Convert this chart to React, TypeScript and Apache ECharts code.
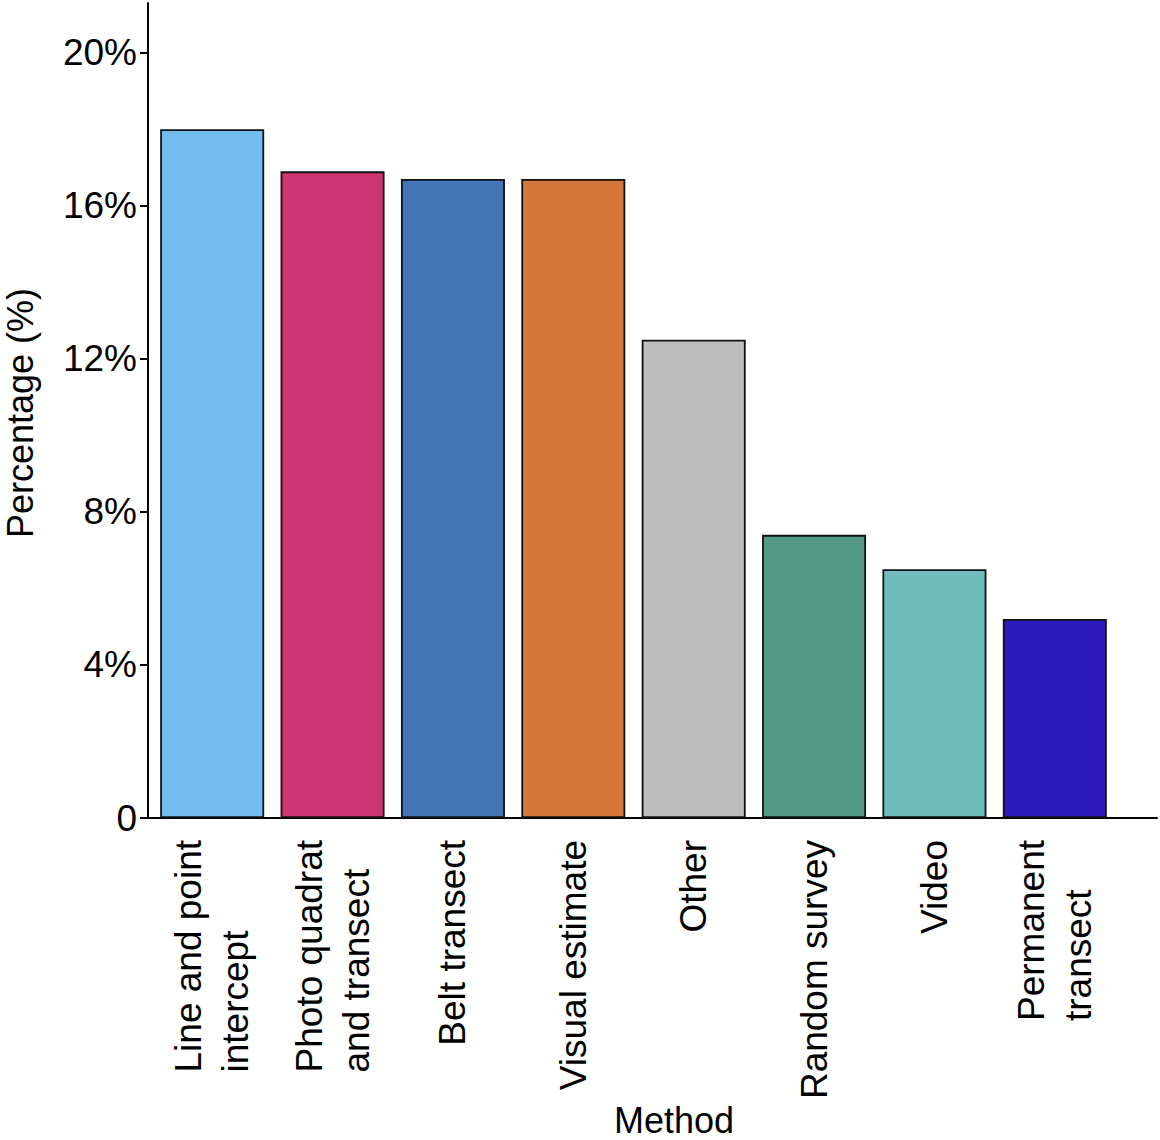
import React, { useEffect, useRef } from "react";
import * as echarts from "echarts";

const categories = [
  "Line and point\nintercept",
  "Photo quadrat\nand transect",
  "Belt transect",
  "Visual estimate",
  "Other",
  "Random survey",
  "Video",
  "Permanent\ntransect",
];
const values = [18.0, 16.9, 16.7, 16.7, 12.5, 7.4, 6.5, 5.2];
const barColors = [
  "#71BDEF",
  "#CF3573",
  "#4374B7",
  "#D6763A",
  "#BEBEBE",
  "#539A86",
  "#6FBBBE",
  "#2C19BB",
];
const yTicks = [0, 4, 8, 12, 16, 20];
const yMax = 21.3;
const yTitle = "Percentage (%)";
const xTitle = "Method";

const FONT = "'Liberation Sans', Arial, Helvetica, sans-serif";
const FS = 37;

export default function App() {
  const ref = useRef<HTMLDivElement>(null);
  useEffect(() => {
    if (!ref.current) return;
    const chart = echarts.init(ref.current, undefined, { renderer: "svg" });
    const option: any = {
      animation: false,
      backgroundColor: "#ffffff",
      textStyle: { fontFamily: FONT },
      grid: [
        { left: 152, width: 963, top: 3, bottom: 322, outerBoundsMode: "none", containLabel: false },
        { left: 148, right: 3, top: 3, bottom: 322, outerBoundsMode: "none", containLabel: false },
      ],
      xAxis: [
        {
          type: "category",
          gridIndex: 0,
          data: categories,
          axisLine: { show: false },
          axisTick: { show: false },
          axisLabel: {
            rotate: 90,
            margin: 22,
            interval: 0,
            color: "#000",
            fontFamily: FONT,
            fontSize: FS,
            formatter: (v: string) =>
              v
                .split("\n")
                .map((l) => `{a|${l}}`)
                .join("\n"),
            rich: {
              a: { fontSize: FS, lineHeight: 47, color: "#000", fontFamily: FONT, align: "left" },
            },
          },
          splitLine: { show: false },
        },
        {
          type: "value",
          gridIndex: 1,
          position: "bottom",
          axisLine: { show: true, onZero: false, lineStyle: { color: "#000", width: 2 } },
          axisTick: { show: false },
          axisLabel: { show: false },
          splitLine: { show: false },
        },
      ],
      yAxis: [
        {
          type: "value",
          gridIndex: 0,
          min: 0,
          max: yMax,
          interval: 4,
          offset: 4,
          axisLine: { show: true, lineStyle: { color: "#000", width: 2 } },
          axisTick: {
            show: true,
            length: 8,
            customValues: yTicks,
            lineStyle: { color: "#000", width: 2 },
          },
          axisLabel: {
            customValues: yTicks,
            margin: 11,
            color: "#000",
            fontFamily: FONT,
            fontSize: FS,
            formatter: (v: number) => (v === 0 ? "0" : `${v}%`),
          },
          splitLine: { show: false },
        },
        { type: "value", gridIndex: 1, show: false },
      ],
      series: [
        {
          type: "bar",
          xAxisIndex: 0,
          yAxisIndex: 0,
          barWidth: 104,
          data: values.map((v, i) => ({
            value: v,
            itemStyle: { color: barColors[i], borderColor: "#111", borderWidth: 1.8 },
          })),
        },
      ],
      graphic: [
        {
          type: "text",
          x: 20,
          y: 413,
          rotation: Math.PI / 2,
          style: {
            text: yTitle,
            fontSize: 36,
            lineHeight: 30,
            fontFamily: FONT,
            fill: "#000",
            align: "center",
            verticalAlign: "middle",
          },
        },
        {
          type: "text",
          x: 674,
          y: 1120,
          style: {
            text: xTitle,
            fontSize: 36,
            lineHeight: 30,
            fontFamily: FONT,
            fill: "#000",
            align: "center",
            verticalAlign: "middle",
          },
        },
      ],
    };
    chart.setOption(option);
    return () => chart.dispose();
  }, []);
  return (
    <div
      ref={ref}
      style={{ position: "fixed", left: 0, top: 0, width: 1160, height: 1140, background: "#fff" }}
    />
  );
}
